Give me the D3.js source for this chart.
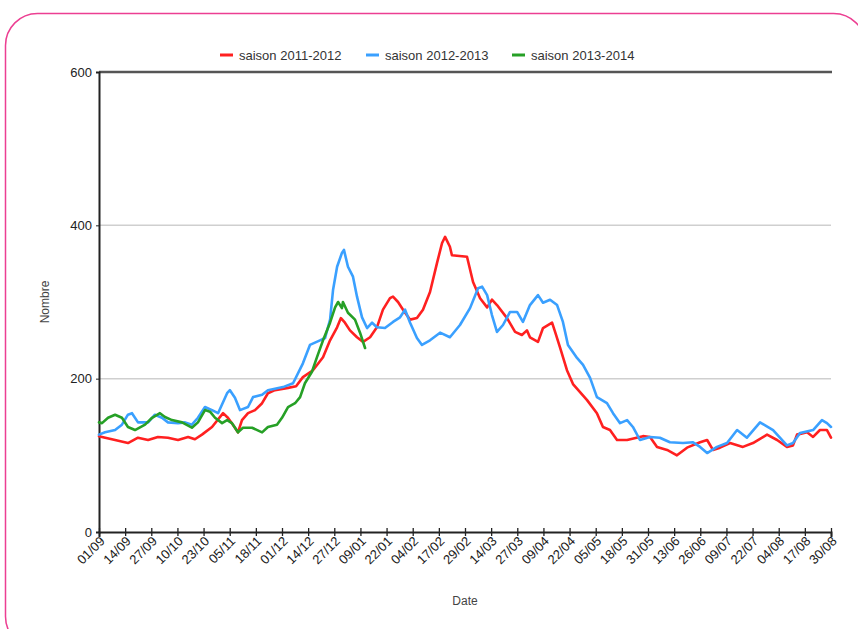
<!DOCTYPE html>
<html><head><meta charset="utf-8">
<script src="https://cdn.jsdelivr.net/npm/d3@7/dist/d3.min.js"></script>
<style>
html,body{margin:0;padding:0;background:#fff;}
svg{display:block;font-family:"Liberation Sans",Arial,sans-serif;}
</style></head>
<body>
<svg id="chart" width="858" height="629"></svg>
<script>
// ---- data (day index from 01/09, value) ----
const tickLabels = ["01/09","14/09","27/09","10/10","23/10","05/11","18/11","01/12","14/12","27/12","09/01","22/01","04/02","17/02","29/02","14/03","27/03","09/04","22/04","05/05","18/05","31/05","13/06","26/06","09/07","22/07","04/08","17/08","30/08"];
const seriesNames = ["saison 2011-2012","saison 2012-2013","saison 2013-2014"];
const seriesColors = ["#ff2020","#3aa0ff","#26a026"];
const yTicks = [0,200,400,600];

const redDays = [0,1.5,8,14.4,19.4,24.4,29.3,34.3,39.3,44.3,47.7,51.2,56.2,61.7,64.1,66.6,69.1,71.1,74.1,77.6,81.1,84,87.5,94,98,101.4,106.4,111.4,114.9,118.4,120.3,122.3,124.8,128.3,131.3,134.8,138.2,141.2,144.7,146.2,148.7,151.2,154.7,158.1,161.1,164.6,168.1,170.6,172.1,174.5,175.5,183,186,189.5,193,195.4,197.9,202.9,206.9,210.3,212.8,214.3,218.3,220.8,225.3,226.8,229.2,232.7,235.7,242.7,247.6,250.6,254.1,257.6,262.6,270.5,274,277.5,282.5,287.4,292.4,298.9,302.4,305.3,308.8,313.8,320.2,325.2,332.2,337.2,342.1,345.1,347.1,352.1,355.1,358.5,362,364];
const redVals = [125,124,120,116,123,120,124,123,120,124,121,127,137,155,149,140,130,146,155,159,168,181,185,188,190,202,211,228,250,267,279,273,263,254,248,254,267,290,305,307,300,290,277,279,290,313,351,377,385,372,361,359,326,305,293,303,296,279,261,257,263,254,248,266,273,261,241,211,193,172,155,137,133,120,120,125,124,111,107,100,110,117,120,107,110,116,111,116,127,120,111,113,127,130,124,133,133,123];

const blueDays = [0,3,8,11.4,14.4,16.4,19.4,24.4,27.8,31.3,34.3,39.3,42.8,46.2,49.2,52.7,56.2,59.2,63.7,65.1,67.6,70.1,74.1,76.6,81.1,84,91.5,96.5,101.4,104.9,109.9,112.4,114.9,116.4,118.4,120.8,121.8,123.8,126.3,128.3,130.8,133.3,135.8,138.2,142.2,146.2,149.7,152.2,154.7,158.1,160.6,164.6,169.6,174.5,179.5,184.5,188.5,190.5,193,195.4,197.9,200.9,204.4,207.9,210.8,214.3,218.3,220.8,224.3,227.8,230.7,233.2,237.7,240.7,244.2,247.6,252.6,255.6,259.1,262.6,265.5,269,274,278.9,283.9,290.4,295.4,298.9,302.4,307.3,312.3,317.3,322.2,328.7,335.2,342.1,345.1,348.6,355.1,359.5,362,364];
const blueVals = [127,130,133,140,153,155,143,143,153,149,143,142,143,140,149,163,159,155,181,185,175,159,163,176,179,185,189,194,220,244,250,253,277,316,346,364,368,346,333,307,280,266,273,267,266,274,280,290,273,253,244,250,260,254,270,292,318,320,309,283,261,270,287,287,274,296,309,299,303,296,274,244,227,218,201,176,168,155,142,146,137,120,124,123,117,116,117,111,103,111,116,133,123,143,133,113,116,129,133,146,142,137];

const greenDays = [0,1.5,4.5,8,11.4,14.4,17.9,22.9,26.4,30.3,32.8,36.3,41.3,46.2,49.2,52.7,55.2,57.7,61.2,63.7,66.1,69.1,71.6,76.1,81.1,84,88.5,91,94,97.5,100,102.4,105.9,108.4,111.4,114.9,117.4,118.9,120.8,121.3,123.8,127.3,129.8,132.3];
const greenVals = [143,142,149,153,149,137,133,140,149,155,150,146,143,136,143,159,157,149,142,146,142,130,136,136,130,137,140,149,163,168,176,194,209,228,250,273,293,300,292,300,286,277,260,240];

// ---- layout ----
const svg = d3.select("#chart");
const x = d3.scaleLinear().domain([0,364]).range([99,831]);
const y = d3.scaleLinear().domain([0,600]).range([532,72]);

// outer rounded pink frame
svg.append("rect").attr("x",5.5).attr("y",13.5).attr("width",860).attr("height",635)
  .attr("rx",32).attr("fill","none").attr("stroke","#ec3f92").attr("stroke-width",1.5);

// gridlines
svg.append("g").selectAll("line").data(yTicks.filter(v=>v>0 && v<600)).join("line")
  .attr("x1",x(0)).attr("x2",x(364)).attr("y1",d=>y(d)).attr("y2",d=>y(d))
  .attr("stroke","#cfcfcf").attr("stroke-width",1.5);

// top frame line
svg.append("line").attr("x1",x(0)).attr("x2",x(364)+1).attr("y1",y(600)).attr("y2",y(600))
  .attr("stroke","#555").attr("stroke-width",2.5);

// y axis
const yAxis = d3.axisLeft(y).tickValues(yTicks).tickSize(3).tickFormat(d3.format("d"));
const gy = svg.append("g").attr("transform",`translate(${x(0)},0)`).call(yAxis);
gy.select(".domain").attr("stroke","#222").attr("stroke-width",2);
gy.selectAll(".tick line").attr("stroke","#222");
gy.selectAll(".tick text").attr("font-size",13).attr("fill","#222").attr("x",-7)
  .attr("font-family","'Liberation Sans',Arial,sans-serif");

// x axis
const xTickVals = d3.range(0,365,13);
const xAxis = d3.axisBottom(x).tickValues(xTickVals).tickSize(5)
  .tickFormat((d,i)=>tickLabels[i]);
const gx = svg.append("g").attr("transform",`translate(0,${y(0)})`).call(xAxis);
gx.select(".domain").attr("stroke","#222").attr("stroke-width",2);
gx.selectAll(".tick line").attr("stroke","#222").attr("stroke-width",1.3).attr("y1",-4).attr("y2",4);
gx.selectAll(".tick text").attr("font-size",13).attr("fill","#1a1a1a")
  .attr("font-family","'Liberation Sans',Arial,sans-serif")
  .attr("text-anchor","end").attr("dy",0).attr("y",0)
  .attr("transform","translate(6,10) rotate(-45)");

// axis titles
svg.append("text").attr("x",465).attr("y",605).attr("text-anchor","middle")
  .attr("font-size",12).attr("fill","#444").text("Date");
svg.append("text").attr("transform","translate(49,302) rotate(-90)").attr("text-anchor","middle")
  .attr("font-size",12).attr("fill","#444").text("Nombre");

// lines
const line = d3.line().x(d=>x(d[0])).y(d=>y(d[1]));
const series = [
  d3.zip(redDays, redVals),
  d3.zip(blueDays, blueVals),
  d3.zip(greenDays, greenVals)
];
series.forEach((s,i)=>{
  svg.append("path").datum(s).attr("d",line).attr("fill","none")
    .attr("stroke",seriesColors[i]).attr("stroke-width",2.6)
    .attr("stroke-linejoin","round").attr("stroke-linecap","round");
});

// legend
const legendX = [220,366,512];
const lg = svg.append("g");
seriesNames.forEach((n,i)=>{
  lg.append("line").attr("x1",legendX[i]).attr("x2",legendX[i]+13).attr("y1",55).attr("y2",55)
    .attr("stroke",seriesColors[i]).attr("stroke-width",3);
  lg.append("text").attr("x",legendX[i]+19).attr("y",59.5).attr("font-size",13)
    .attr("fill","#333").text(n);
});
</script>
</body></html>
